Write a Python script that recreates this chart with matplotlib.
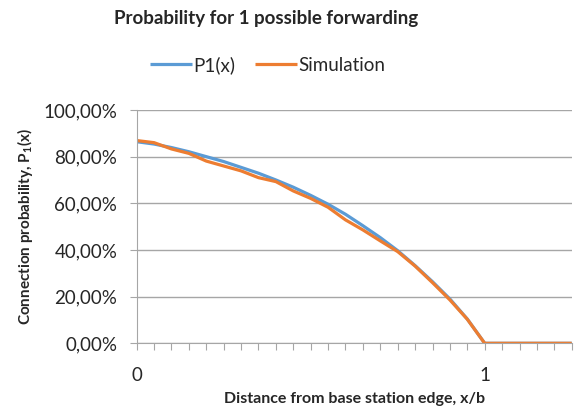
import numpy as np
import matplotlib.pyplot as plt
from matplotlib.ticker import FuncFormatter

# data (x/b from 0 to 1.25, step 0.05)
x = [0.00, 0.05, 0.10, 0.15, 0.20, 0.25, 0.30, 0.35, 0.40, 0.45, 0.50, 0.55, 0.60,
     0.65, 0.70, 0.75, 0.80, 0.85, 0.90, 0.95, 1.00, 1.05, 1.10, 1.15, 1.20, 1.25]
p1 = [0.864, 0.854, 0.839, 0.821, 0.800, 0.779, 0.754, 0.729, 0.700, 0.669, 0.634,
      0.596, 0.553, 0.504, 0.453, 0.397, 0.333, 0.264, 0.190, 0.104, 0.0, 0.0, 0.0,
      0.0, 0.0, 0.0]
sim = [0.869, 0.860, 0.833, 0.814, 0.781, 0.760, 0.739, 0.710, 0.693, 0.653, 0.621,
       0.583, 0.529, 0.486, 0.439, 0.393, 0.331, 0.260, 0.186, 0.103, 0.0, 0.0, 0.0,
       0.0, 0.0, 0.0]
xlabels = ['0'] + [''] * 19 + ['1'] + [''] * 5

plt.rcParams['font.family'] = ['Lato', 'DejaVu Sans']
plt.rcParams['mathtext.fontset'] = 'custom'
plt.rcParams['mathtext.rm'] = 'Lato:bold'
plt.rcParams['mathtext.bf'] = 'Lato:bold'

fig = plt.figure(figsize=(5.75, 4.11), dpi=100)
ax = fig.add_axes([0.2377, 0.1647, 0.7566, 0.5677])

ax.plot(x, p1, color='#5B9BD5', lw=2.3, label='P1(x)', solid_capstyle='butt')
ax.plot(x, sim, color='#ED7D31', lw=2.3, label='Simulation', solid_capstyle='butt')

ax.set_xlim(x[0], x[-1])
ax.set_ylim(0, 1)
ax.set_yticks(np.arange(0, 1.01, 0.2))
ax.yaxis.set_major_formatter(FuncFormatter(lambda v, p: ('%.2f%%' % (v * 100)).replace('.', ',')))
ax.set_xticks(x)
ax.set_xticklabels(xlabels)

ax.grid(axis='y', color='#A6A6A6', lw=1)
ax.set_axisbelow(True)
for s in ['top', 'right']:
    ax.spines[s].set_visible(False)
for s in ['left', 'bottom']:
    ax.spines[s].set_color('#A6A6A6')
ax.tick_params(axis='x', length=5, color='#A6A6A6', pad=12, labelsize=13.5, labelcolor='#262626')
ax.tick_params(axis='y', length=5, color='#A6A6A6', pad=9, labelsize=13.5, labelcolor='#262626')

ax.set_xlabel('Distance from base station edge, x/b', fontsize=11.5, fontweight='bold',
              color='#262626', labelpad=6)
ax.set_ylabel(r'Connection probability, P$_\mathrm{1}$(x)', fontsize=11, fontweight='bold',
              color='#262626', labelpad=6)

fig.text(0.463, 0.955, 'Probability for 1 possible forwarding', ha='center', va='center',
         fontsize=13.5, fontweight='bold', color='#262626')
fig.legend(loc='center', bbox_to_anchor=(0.466, 0.842), ncol=2, frameon=False,
           fontsize=13.5, handlelength=2.2, handletextpad=0.1, columnspacing=1.05,
           labelcolor='#262626')

fig.savefig('out.png', dpi=100)
